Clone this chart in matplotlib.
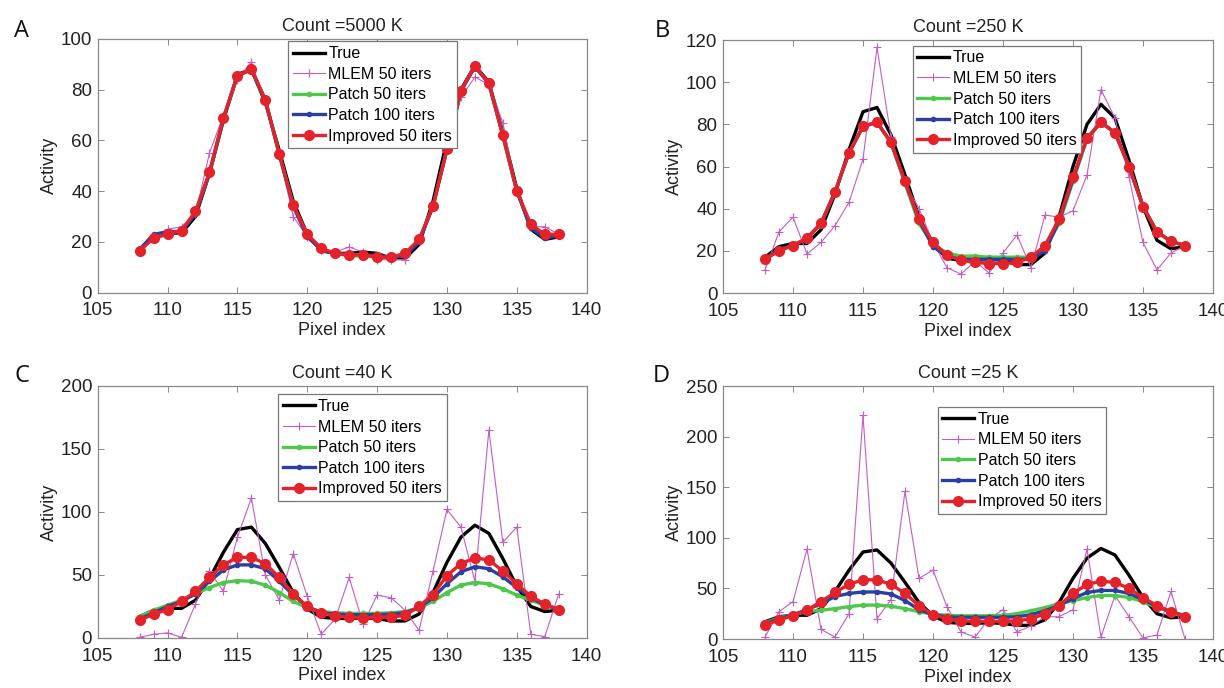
import numpy as np
import matplotlib
matplotlib.use("Agg")
import matplotlib.pyplot as plt

plt.rcParams['font.family'] = ['Liberation Sans', 'DejaVu Sans']

pixel = np.arange(108, 139)

true_vals = [17, 22, 23.5, 23.5, 30, 47, 68, 86, 88, 75, 56, 36, 23, 16.5, 15.5, 15.5,
             16, 15.5, 13.5, 13.5, 19, 36, 60, 80, 89.5, 83, 63, 41, 25, 21, 22]

# panel A, count 5000 K
mlem_a = [17, 22, 25, 26, 31, 55, 70, 84, 91, 75, 54, 30, 22, 17, 16, 18,
          16, 13, 13, 13, 21, 35, 57, 77, 85, 82, 67, 40, 26, 26, 23]
p50_a = [17, 22.5, 23.5, 24.5, 31.5, 47, 68.5, 85.5, 88, 76, 54.5, 34.5, 22.5, 17, 15.5, 14.5,
         14.5, 14, 14, 15, 20.5, 34, 56.5, 79.5, 89, 82.5, 62, 40, 26, 22, 22.5]
p100_a = [17, 23, 24, 24, 31, 47, 68.5, 85.5, 88, 76, 54.5, 34, 22, 17, 15.5, 15,
          15, 14.5, 14, 14.5, 20, 34, 56.5, 79.5, 89, 82.5, 62, 40, 25.5, 21.5, 22.5]
imp_a = [16.5, 21.5, 23, 24.5, 32, 47.5, 69, 85.5, 88, 76, 54.5, 34.5, 23, 17.5, 15.5, 15,
         15, 14, 14, 15.5, 21, 34, 56.5, 79.5, 89.5, 82.5, 62, 40, 27, 23, 23]

# panel B, count 250 K
mlem_b = [11, 29, 36, 18.5, 24, 32, 43, 63.5, 116.5, 74, 52, 40, 24, 12, 9, 15,
          9.5, 19, 27.5, 12, 37, 36, 39, 56, 96.5, 83, 55, 24, 11, 19, 22.5]
p50_b = [16, 20.5, 22.5, 26, 33, 48, 66.5, 79, 81, 71, 52, 33, 23, 19, 17.5, 17.5,
         17, 17, 17, 17, 21, 33, 53, 73, 81, 76, 60, 41, 29, 24.5, 22.5]
p100_b = [16, 20.5, 22.5, 26, 33, 48, 66.5, 79, 81, 71.5, 53, 34.5, 22, 17.5, 16, 16,
          16, 16, 16, 16, 20, 34, 54, 73.5, 81, 76, 60, 41, 29, 24.5, 22.5]
imp_b = [16, 20, 22.5, 26, 33, 48, 66.5, 79, 81, 71.5, 53, 35, 24, 18, 15.5, 14.5,
         14, 14, 14.5, 17, 22.5, 35, 55, 73.5, 81, 76, 60, 41, 29, 24.5, 22.5]

# panel C, count 40 K
mlem_c = [0.5, 3, 4, 0.5, 27, 53, 37, 80, 111, 50, 30, 67, 33, 3, 15, 48,
          11, 34, 32, 22, 6, 53, 102, 88, 45, 165, 76, 88, 3, 1, 35]
p50_c = [17, 22, 26, 30, 35, 40, 44, 45.5, 45, 42, 36, 29, 24, 21, 20, 19.5,
         19.5, 19.5, 20, 21, 24, 29, 36, 42, 44, 43, 39, 34, 30, 26, 23]
p100_c = [15, 20, 25, 29, 35, 45, 54, 58, 58, 55, 45, 34, 25, 20, 19, 18.5,
          18.5, 18.5, 19, 20, 24, 32, 43, 52.5, 56.5, 55, 48.5, 40, 32, 26, 23]
imp_c = [14, 19, 22.5, 29, 37, 48, 58, 64, 64, 59, 48, 35, 25, 20, 17.5, 16.5,
         16, 16.5, 16.5, 18, 25, 34.5, 49.5, 59, 63.5, 62, 53, 43, 33, 27, 22.5]

# panel D, count 25 K
mlem_d = [2, 27, 37, 89, 9.5, 2, 25, 221, 20, 39, 146, 60, 68, 32, 7, 2,
          20, 29, 7, 13, 22, 22, 29, 89, 2, 43, 22, 1, 4, 47, 0]
p50_d = [16, 21, 24, 27, 28.5, 30, 32, 33.5, 33.5, 32.5, 30, 27, 24.5, 23.5, 23, 23,
         23, 23.5, 25, 28, 31, 35, 38, 41, 43, 43, 41, 37, 31, 27, 23]
p100_d = [15, 20, 24, 29, 35, 42, 45, 46.5, 46.5, 44.5, 38, 29, 24, 22, 21.5, 21.5,
          21.5, 21.5, 22, 24, 28, 33, 40, 46, 48, 48, 45, 39, 32, 27, 23]
imp_d = [13.5, 19, 23, 28.5, 37, 46, 54, 58.5, 58.5, 54, 45, 33, 24, 20, 18, 17.5,
         17.5, 17.5, 18, 20, 25, 33, 45, 54, 57, 56, 50, 41, 33, 27, 22]

titles = ["Count =5000 K", "Count =250 K", "Count =40 K", "Count =25 K"]
letters = ["A", "B", "C", "D"]
yticks = [np.arange(0, 101, 20), np.arange(0, 121, 20), np.arange(0, 201, 50), np.arange(0, 251, 50)]
panels = [(mlem_a, p50_a, p100_a, imp_a), (mlem_b, p50_b, p100_b, imp_b),
          (mlem_c, p50_c, p100_c, imp_c), (mlem_d, p50_d, p100_d, imp_d)]

# axes rectangles in figure fractions, legend anchors in axes fractions
rects = [[0.0798, 0.5746, 0.3995, 0.3688], [0.5907, 0.5741, 0.4003, 0.3677],
         [0.0798, 0.0727, 0.3995, 0.3663], [0.5907, 0.0712, 0.4003, 0.3677]]
leg_pos = [(0.39, 0.99), (0.387, 0.978), (0.369, 0.967), (0.438, 0.917)]
letter_pos = [(22, 31), (662, 31), (22, 376), (661, 376)]

C_MLEM = "#c45cc8"
C_P50 = "#4ec84a"
C_P100 = "#2a3f9f"
C_IMP = "#e4222a"

fig = plt.figure(figsize=(12.24, 6.88), dpi=100)

for i in range(4):
    ax = fig.add_axes(rects[i])
    mlem, p50, p100, imp = panels[i]
    ax.plot(pixel, true_vals, color="black", lw=2.4, label="True")
    ax.plot(pixel, mlem, color=C_MLEM, lw=0.8, marker="+", ms=6, mew=0.8, label="MLEM 50 iters")
    ax.plot(pixel, p50, color=C_P50, lw=2.4, marker=".", ms=6, label="Patch 50 iters")
    ax.plot(pixel, p100, color=C_P100, lw=2.4, marker=".", ms=6, label="Patch 100 iters")
    ax.plot(pixel, imp, color=C_IMP, lw=2.4, marker="o", ms=7, label="Improved 50 iters")

    ax.set_xlim(105, 140)
    ax.set_xticks(np.arange(105, 141, 5))
    ax.set_ylim(yticks[i][0], yticks[i][-1])
    ax.set_yticks(yticks[i])
    ax.tick_params(direction="in", top=True, right=True, length=4, width=0.7,
                   colors="#888888", labelcolor="#222222", labelsize=13.5)
    ax.tick_params(axis="x", pad=7)
    ax.tick_params(axis="y", pad=4)
    for s in ax.spines.values():
        s.set_color("#888888")
        s.set_linewidth(0.9)
    ax.set_title(titles[i], fontsize=13, color="#222222", pad=6)
    ax.set_xlabel("Pixel index", fontsize=13, color="#222222", labelpad=2)
    ax.set_ylabel("Activity", fontsize=13, color="#222222", labelpad=2)

    leg = ax.legend(loc="upper left", bbox_to_anchor=leg_pos[i], borderaxespad=0,
                    fontsize=11.5, frameon=True, fancybox=False, framealpha=1,
                    handlelength=2.0, handletextpad=0.2, labelspacing=0.35,
                    borderpad=0.3)
    leg.get_frame().set_edgecolor("#777777")
    leg.get_frame().set_linewidth(0.9)

    fig.text(letter_pos[i][0] / 1224, 1 - letter_pos[i][1] / 688, letters[i],
             fontsize=17, ha="center", va="center", family="Open Sans", color="#111111")

fig.savefig("out.png", dpi=100)
